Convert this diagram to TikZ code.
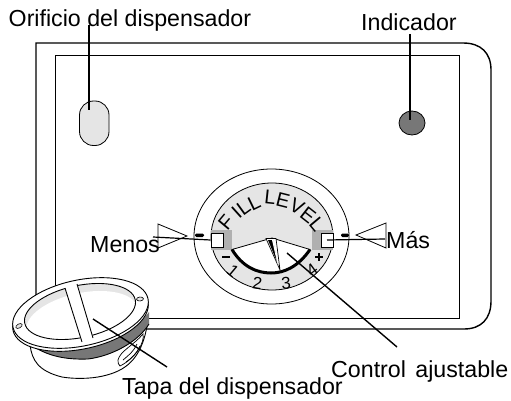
\documentclass[tikz,border=0pt]{standalone}
\usepackage{fontspec}
\usetikzlibrary{shapes.geometric}
\setmainfont{Liberation Sans}
\definecolor{lightg}{HTML}{E5E5E5}
\definecolor{midg}{HTML}{B0B0B0}
\definecolor{darkg}{HTML}{777777}
\tikzset{
  lbl/.style={inner sep=0pt,anchor=base west,font=\fontsize{23.2}{25}\selectfont},
  leader/.style={draw=black,line width=1.4pt},
  fine/.style={draw=black,line width=0.8pt},
  dialch/.style={inner sep=0pt,font=\fontsize{20}{21}\selectfont},
  numch/.style={inner sep=0pt,font=\fontsize{17}{18}\selectfont},
  gear/.style={draw=black,line width=0.9pt,fill=white},
}
\begin{document}
\begin{tikzpicture}[x=1pt,y=-1pt]
\useasboundingbox (0,0) rectangle (511,401);
% panel
\draw[line width=1.4pt] (36,300) -- (36,43) -- (463,43) .. controls (481,43) and (491,53) .. (491,70) -- (491,301)
  .. controls (491,319) and (481,329) .. (464,329) -- (100,329);
\draw[line width=0.9pt] (55,300) -- (55,55.5) -- (459,55.5) -- (459,318) -- (100,318);
% dispenser hole and indicator
\draw[fill=lightg,line width=0.8pt,rounded corners=14pt] (79.5,101) rectangle (109,145.5);
\node[draw=black,fill=darkg,line width=0.8pt,shape=ellipse,minimum width=26pt,minimum height=24pt,inner sep=0pt] (ind) at (412,123) {};
\coordinate (holept) at (89,110);
\coordinate (indpt) at (410,120);
% dial
\draw[fine,fill=white] (271.5,236.5) ellipse [x radius=77.5,y radius=67.5];
\draw[fine,fill=lightg] (272,236.5) ellipse [x radius=61,y radius=53.5];
\fill[midg] (211.3,230) rectangle (232,249.5);
\fill[midg] (312,230) rectangle (332.7,249.5);
\draw[fine,fill=white] (232,249.5) -- (272,238) -- (310,249.5) .. controls (298,267) and (284,273) .. (271,273) .. controls (256,273) and (242,266) .. (232,249.5) -- cycle;
\draw[line width=3pt] (232,249.5) .. controls (242,266) and (256,273) .. (271,273) .. controls (284,273) and (298,267) .. (310,249.5);
\draw[line width=0.7pt,fill=white] (266,238.5) -- (276,238.5) -- (280,270) -- cycle;
\fill (268,240) -- (273,240) -- (277,262) -- cycle;
\fill[white] (272,240) -- (273.5,240) -- (278,266) -- cycle;
\node[fine,draw,fill=white,minimum width=12pt,minimum height=14pt,inner sep=0pt] (sqL) at (217,240) {};
\node[fine,draw,fill=white,minimum width=12pt,minimum height=14pt,inner sep=0pt] (sqR) at (327,240) {};
% dial text
\node[dialch,rotate=50] (c1) at (226,222) {F};
\node[dialch,rotate=42] (c2) at (236.5,213) {I};
\node[dialch,rotate=36] (c3) at (243.5,208) {L};
\node[dialch,rotate=26] (c4) at (254,203) {L};
\node[dialch,rotate=-6] (c5) at (270,197) {L};
\node[dialch,rotate=-14] (c6) at (283,200) {E};
\node[dialch,rotate=-28] (c7) at (297,207) {V};
\node[dialch,rotate=-38] (c8) at (308,215) {E};
\node[dialch,rotate=-50] (c9) at (317,224) {L};
\fill (222,256.2) rectangle (230,258.2);
\fill (315,256) rectangle (323,258);
\fill (318,253) rectangle (320,261);
\node[numch,rotate=-40] (n1) at (233,271) {1};
\node[numch,rotate=-8] (n2) at (257.5,283) {2};
\node[numch,rotate=5] (n3) at (286,283) {3};
\node[numch,rotate=36] (n4) at (312,270) {4};
% side markers
\coordinate (menosend) at (153,237);
\coordinate (masend) at (385,239);
\draw[line width=0.8pt] (158,224) -- (187,236) -- (158,248) -- cycle;
\draw[line width=0.8pt] (386,223) -- (356,235) -- (386,248) -- cycle;
\fill[rounded corners=1.3pt] (195,233.5) rectangle (204,237);
\fill[rounded corners=1.3pt] (341,233.5) rectangle (349,237);
\draw[line width=1.2pt] (menosend) -- (sqL.west);
\draw[line width=1.2pt] (sqR.center) -- (masend);
% labels
\node[lbl] (lorif) at (8.5,27) {Orificio del dispensador};
\node[lbl] (lind) at (361,31) {Indicador};
\node[lbl] (lmenos) at (90,252) {Menos};
\node[lbl] (lmas) at (386,248) {Más};
\node[lbl] (lctrl) at (331,377) {Control\hspace{3pt} ajustable};
\node[lbl] (ltapa) at (122,394) {Tapa del dispensador};
% leaders
\coordinate (orift) at (89,25);
\coordinate (indt) at (410,34);
\draw[leader] (orift) -- (holept);
\draw[leader] (indt) -- (indpt);
\coordinate (ctrla) at (287,253);
\coordinate (ctrlb) at (397,347);
\draw[leader] (ctrla) -- (ctrlb);
% cap body
\draw[line width=0.9pt,fill=white] (30,345) .. controls (32,360) and (38,371) .. (62,377) .. controls (74,379) and (90,379) .. (103,376)
  .. controls (125,371) and (141,360) .. (147,326) -- cycle;
% side notch
\draw[line width=0.7pt,fill=white] (118,360) .. controls (120,351) and (134,345) .. (143,334) .. controls (145,342) and (136,358) .. (120,366) .. controls (118,365) and (118,362) .. (118,360) -- cycle;
\draw[line width=0.7pt] (123,360) .. controls (129,355) and (134,351) .. (137,344);
\draw[line width=0.7pt] (126,362) .. controls (132,358) and (137,353) .. (140,346);
% dark band
\fill[darkg] (20,335) .. controls (45,345) and (70,345) .. (88,345) .. controls (110,342) and (135,330) .. (149,312) -- (149,324)
  .. controls (138,342) and (112,356) .. (88,359) .. controls (60,360) and (38,354) .. (20,335) -- cycle;
\draw[line width=0.9pt] (20,335) .. controls (38,354) and (60,360) .. (88,359) .. controls (112,356) and (138,342) .. (149,324);
% rim
\begin{scope}[shift={(80.5,316)},rotate=12]
  \draw[gear] (0,0) ellipse [x radius=69,y radius=33];
\end{scope}
\begin{scope}[shift={(80.5,313)},rotate=12]
  \draw[gear] (0,0) ellipse [x radius=69,y radius=33];
\end{scope}
% opening
\begin{scope}
  \clip[shift={(80,311.5)},rotate=12] (0,0) ellipse [x radius=56.5,y radius=26];
  \fill[lightg] (10,270) rectangle (150,350);
  \fill[white,shift={(82,319)},rotate=12] (0,0) ellipse [x radius=56.5,y radius=26];
\end{scope}
\begin{scope}[shift={(80,311.5)},rotate=12]
  \draw[line width=0.9pt] (0,0) ellipse [x radius=56.5,y radius=26];
\end{scope}
% cross bar
\fill[white] (64.5,286) -- (77,282) -- (94,340) -- (82,344) -- cycle;
\draw[line width=0.9pt] (65,288) -- (82,342);
\draw[line width=0.9pt] (77,284) -- (93,338);
% rim slots
\begin{scope}[shift={(19,326)},rotate=30]
  \draw[line width=0.6pt,fill=lightg] (0,0) ellipse [x radius=3.5,y radius=2];
\end{scope}
\begin{scope}[shift={(140,299)},rotate=5]
  \draw[line width=0.6pt,fill=lightg] (0,0) ellipse [x radius=3.5,y radius=2];
\end{scope}
\coordinate (tapaa) at (93,319);
\coordinate (tapab) at (167,367);
\draw[leader] (tapaa) -- (tapab);
\end{tikzpicture}
\end{document}
